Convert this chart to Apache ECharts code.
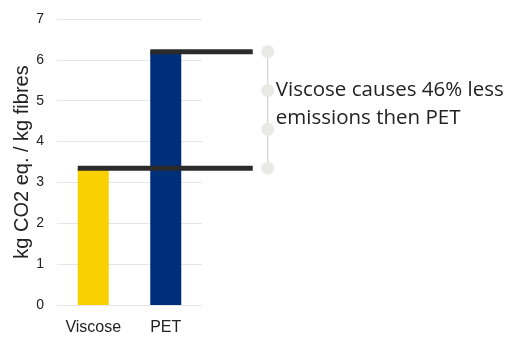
<!DOCTYPE html>
<html>
<head>
<meta charset="utf-8">
<script src="https://cdn.jsdelivr.net/npm/echarts@6/dist/echarts.min.js"></script>
<style>
  html, body { margin: 0; padding: 0; background: #fff; }
  #chart { width: 512px; height: 340px; }
</style>
</head>
<body>
<div id="chart"></div>
<script>
// Greenhouse-gas footprint per kg of fibre
const categories = ['Viscose', 'PET'];
const emissions = [3.35, 6.2];
const barColors = ['#f9d000', '#002f7a'];
const yTicks = [0, 1, 2, 3, 4, 5, 6, 7];
const noteLines = ['Viscose causes 46% less', 'emissions then PET'];
const yAxisTitle = 'kg CO2 eq. / kg fibres';

const chart = echarts.init(document.getElementById('chart'));

const LINE_END_OFFSET = 87;   // how far the reference lines run past the PET bar centre
const BRACKET_GAP = 15;       // gap between line end and bracket
const BAR_WIDTH = 31;

// horizontal reference line at the top of each bar, running right to the bracket
function renderLevel(params, api) {
  const idx = api.value(0);
  const v = api.value(1);
  const p = api.coord([idx, v]);
  const endX = api.coord([categories.length - 1, 0])[0] + LINE_END_OFFSET;
  return {
    type: 'line',
    shape: { x1: p[0] - BAR_WIDTH / 2, y1: p[1], x2: endX, y2: p[1] },
    style: { stroke: '#2b2b2b', lineWidth: 5 }
  };
}

// bracket with dots joining the two levels, plus the note
function renderBracket(params, api) {
  const lo = api.value(0);
  const hi = api.value(1);
  const x = api.coord([categories.length - 1, 0])[0] + LINE_END_OFFSET + BRACKET_GAP;
  const yLo = api.coord([0, lo])[1];
  const yHi = api.coord([0, hi])[1];
  const children = [{
    type: 'line',
    shape: { x1: x, y1: yHi, x2: x, y2: yLo },
    style: { stroke: '#c8c8c8', lineWidth: 1 }
  }];
  for (let k = 0; k <= 3; k++) {
    const y = yHi + (yLo - yHi) * k / 3;
    children.push({
      type: 'circle',
      shape: { cx: x, cy: y, r: 6.5 },
      style: { fill: '#e9e9e5' }
    });
  }
  const mid = (yHi + yLo) / 2;
  children.push({
    type: 'text',
    style: {
      text: noteLines.join('\n'),
      x: x + 8,
      y: mid - 6,
      align: 'left',
      verticalAlign: 'middle',
      fill: '#222',
      font: '20.5px "Open Sans", sans-serif',
      lineHeight: 28
    }
  });
  return { type: 'group', children };
}

chart.setOption({
  animation: false,
  backgroundColor: '#fff',
  grid: { left: 57, right: 310, top: 19, bottom: 35 },
  xAxis: {
    type: 'category',
    data: categories,
    axisLine: { show: false },
    axisTick: { show: false },
    axisLabel: {
      interval: 0,
      color: '#222',
      fontSize: 16,
      fontFamily: '"Liberation Sans", Arial, sans-serif',
      margin: 15
    }
  },
  yAxis: {
    type: 'value',
    min: yTicks[0],
    max: yTicks[yTicks.length - 1],
    interval: 1,
    name: yAxisTitle,
    nameLocation: 'middle',
    nameGap: 20,
    nameTextStyle: { color: '#222', fontSize: 20, fontFamily: '"Liberation Sans", Arial, sans-serif' },
    axisLine: { show: false },
    axisTick: { show: false },
    axisLabel: { color: '#222', fontSize: 14, fontFamily: '"Liberation Sans", Arial, sans-serif', margin: 13 },
    splitLine: { lineStyle: { color: '#e6e6e6', width: 1 } }
  },
  series: [
    {
      type: 'bar',
      barWidth: BAR_WIDTH,
      data: emissions.map((v, i) => ({ value: v, itemStyle: { color: barColors[i] } }))
    },
    {
      type: 'custom',
      clip: false,
      renderItem: renderLevel,
      encode: { x: 0, y: 1 },
      data: emissions.map((v, i) => [i, v]),
      z: 5
    },
    {
      type: 'custom',
      clip: false,
      renderItem: renderBracket,
      encode: { y: [0, 1] },
      data: [[Math.min(...emissions), Math.max(...emissions)]],
      z: 5
    }
  ]
});
</script>
</body>
</html>
